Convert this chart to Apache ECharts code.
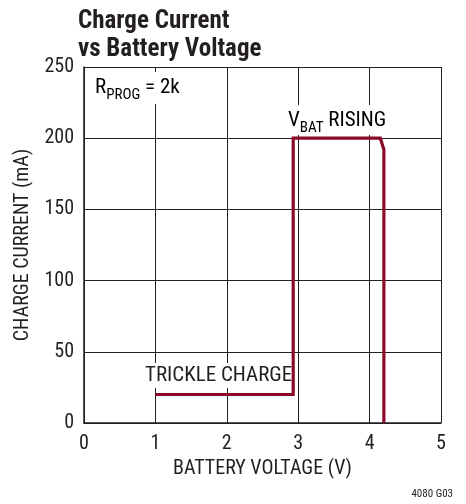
<!DOCTYPE html>
<html><head><meta charset="utf-8">
<script src="https://cdn.jsdelivr.net/npm/echarts@6/dist/echarts.min.js"></script>
<style>html,body{margin:0;padding:0;background:#fff}#c{width:466px;height:504px}</style>
</head><body><div id="c"></div>
<script>
// Data
const voltage = [1.0, 2.93, 2.93, 4.15, 4.2, 4.2];
const current = [20, 20, 200, 200, 192, 0];
const xTicks = [0, 1, 2, 3, 4, 5];
const yTicks = [0, 50, 100, 150, 200, 250];

const FONT = '"Liberation Sans Narrow", "Arial Narrow", "Roboto Condensed", sans-serif';
const TXT = '#231f20';
const chart = echarts.init(document.getElementById('c'));
const sub = { fontFamily: FONT, fontSize: 15, color: TXT, verticalAlign: 'bottom', lineHeight: 16, padding: [0, 0, -5, 0] };
const nrm = { fontFamily: FONT, fontSize: 21, color: TXT, verticalAlign: 'bottom', lineHeight: 24 };
chart.setOption({
  animation: false,
  backgroundColor: '#fff',
  title: [
    { text: 'Charge Current\nvs Battery Voltage', left: 78, top: 8, padding: 0,
      textStyle: { fontFamily: FONT, fontWeight: 'bold', fontSize: 25, lineHeight: 28, color: TXT } },
    { text: '4080 G03', right: 13, top: 489, padding: 0,
      textStyle: { fontFamily: FONT, fontWeight: 'normal', fontSize: 11, color: TXT } }
  ],
  grid: { left: 84, right: 25, top: 67, bottom: 81 },
  xAxis: {
    type: 'value', min: 0, max: 5, interval: 1,
    name: 'BATTERY VOLTAGE (V)', nameLocation: 'middle', nameGap: 35,
    nameTextStyle: { fontFamily: FONT, fontSize: 20, color: TXT },
    axisLine: { show: true, lineStyle: { color: '#231f20', width: 1.5 } },
    axisTick: { show: false },
    axisLabel: { fontFamily: FONT, fontSize: 20, color: TXT, margin: 11,
      formatter: v => xTicks.includes(v) ? String(v) : '' },
    splitLine: { show: true, lineStyle: { color: '#231f20', width: 1 } }
  },
  yAxis: {
    type: 'value', min: 0, max: 250, interval: 50,
    name: 'CHARGE CURRENT (mA)', nameLocation: 'middle', nameGap: 42,
    nameTextStyle: { fontFamily: FONT, fontSize: 20, color: TXT },
    axisLine: { show: true, lineStyle: { color: '#231f20', width: 1.5 } },
    axisTick: { show: false },
    axisLabel: { fontFamily: FONT, fontSize: 20, color: TXT, margin: 10,
      formatter: v => yTicks.includes(v) ? String(v) : '' },
    splitLine: { show: true, lineStyle: { color: '#231f20', width: 1 } }
  },
  series: [{
    type: 'line',
    data: voltage.map((v, i) => [v, current[i]]),
    showSymbol: false,
    lineStyle: { color: '#8b0a2a', width: 3.2, join: 'miter' },
    z: 5
  }],
  graphic: [
    { type: 'text', left: 91, top: 72, z: 1,
      style: { text: '{n|R}{s|PROG}{n| = 2k}', backgroundColor: '#fff', padding: [2, 4, 6, 4],
        rich: { n: nrm, s: sub } } },
    { type: 'text', left: 286, top: 105, z: 1,
      style: { text: '{n|V}{s|BAT}{n| RISING}', backgroundColor: '#fff', padding: [2, 2, 4, 2],
        rich: { n: nrm, s: sub } } },
    { type: 'text', left: 143, top: 363, z: 1,
      style: { text: 'TRICKLE CHARGE', backgroundColor: '#fff', padding: [2, 2, 2, 2],
        fontFamily: FONT, fontSize: 21, fill: TXT } }
  ]
});
</script></body></html>
